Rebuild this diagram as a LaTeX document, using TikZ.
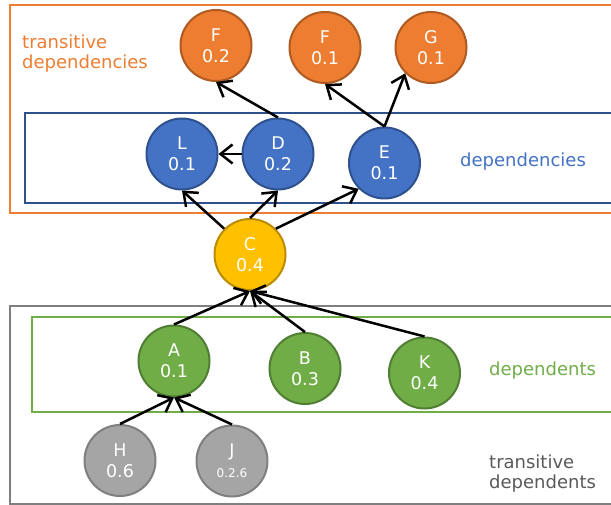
\documentclass[tikz,border=0pt]{standalone}
\usepackage{fontspec}
\setmainfont{DejaVu Sans}
\usetikzlibrary{arrows.meta}
\definecolor{ppOrange}{HTML}{ED7D31}
\definecolor{ppOrangeDk}{HTML}{AE5A21}
\definecolor{ppBlue}{HTML}{4472C4}
\definecolor{ppBlueDk}{HTML}{2F528F}
\definecolor{ppGold}{HTML}{FFC000}
\definecolor{ppGoldDk}{HTML}{BC8C00}
\definecolor{ppGreen}{HTML}{70AD47}
\definecolor{ppGreenDk}{HTML}{507E32}
\definecolor{ppGray}{HTML}{A5A5A5}
\definecolor{ppGrayDk}{HTML}{7F7F7F}
\definecolor{ppText}{HTML}{595959}

\begin{document}
\begin{tikzpicture}[x=1pt,y=1pt,
  pkg/.style={circle,draw,line width=2pt,minimum size=71pt,inner sep=0pt,text=white,align=center,font=\fontsize{17.5}{21}\selectfont},
  link/.style={-{Straight Barb[length=12pt,width=19pt]},line width=2.5pt},
  frame/.style={line width=2pt},
  tag/.style={inner sep=0pt,align=left,font=\fontsize{18}{20}\selectfont}]
  \useasboundingbox (0,0) rectangle (611,-505);
  % Frames
  \draw[frame,ppOrange] (10,-5) rectangle (615,-213);
  \draw[frame,ppBlueDk] (25,-113) rectangle (615,-203);
  \draw[frame,ppGrayDk] (10,-306) rectangle (615,-504);
  \draw[frame,ppGreen] (32,-317) rectangle (615,-412);
  % Transitive dependencies
  \node[pkg,fill=ppOrange,draw=ppOrangeDk] (F1) at (216,-45.5) {F\\0.2};
  \node[pkg,fill=ppOrange,draw=ppOrangeDk] (F2) at (325,-47.5) {F\\0.1};
  \node[pkg,fill=ppOrange,draw=ppOrangeDk] (G) at (431,-47.5) {G\\0.1};
  % Dependencies
  \node[pkg,fill=ppBlue,draw=ppBlueDk] (L) at (182,-154) {L\\0.1};
  \node[pkg,fill=ppBlue,draw=ppBlueDk] (D) at (278,-154) {D\\0.2};
  \node[pkg,fill=ppBlue,draw=ppBlueDk] (E) at (384.5,-163) {E\\0.1};
  % Package
  \node[pkg,fill=ppGold,draw=ppGoldDk] (C) at (250,-254.5) {C\\0.4};
  % Dependents
  \node[pkg,fill=ppGreen,draw=ppGreenDk] (A) at (174,-361) {A\\0.1};
  \node[pkg,fill=ppGreen,draw=ppGreenDk] (B) at (305,-368.5) {B\\0.3};
  \node[pkg,fill=ppGreen,draw=ppGreenDk] (K) at (424.5,-373) {K\\0.4};
  % Transitive dependents
  \node[pkg,fill=ppGray,draw=ppGrayDk] (H) at (120,-460.5) {H\\0.6};
  \node[pkg,fill=ppGray,draw=ppGrayDk] (J) at (232,-461) {J\\{\fontsize{12}{14}\selectfont 0.2.6}};
  % Links
  \draw[link] (D.north) -- (F1.south);
  \draw[link] (E.north) -- (F2.south);
  \draw[link] (E.north) -- (G.south west);
  \draw[link] (D.west) -- (L.east);
  \draw[link] (C.north west) -- (L.south);
  \draw[link] (C.north) -- (D.south);
  \draw[link] (C.north east) -- (E.south west);
  \draw[link] (A.north) -- (C.south);
  \draw[link] (B.north) -- (C.south);
  \draw[link] (K.north) -- (C.south);
  \draw[link] (H.north) -- (A.south);
  \draw[link] (J.north) -- (A.south);
  % Group labels
  \node[tag,anchor=west,text=ppOrange] (tdeps) at (22,-54) {transitive\\dependencies};
  \node[tag,anchor=base west,text=ppBlue] (deps) at (460,-167) {dependencies};
  \node[tag,anchor=base west,text=ppGreen] (dnts) at (489,-375) {dependents};
  \node[tag,anchor=west,text=ppText] (tdnts) at (489,-474) {transitive\\dependents};
\end{tikzpicture}
\end{document}
